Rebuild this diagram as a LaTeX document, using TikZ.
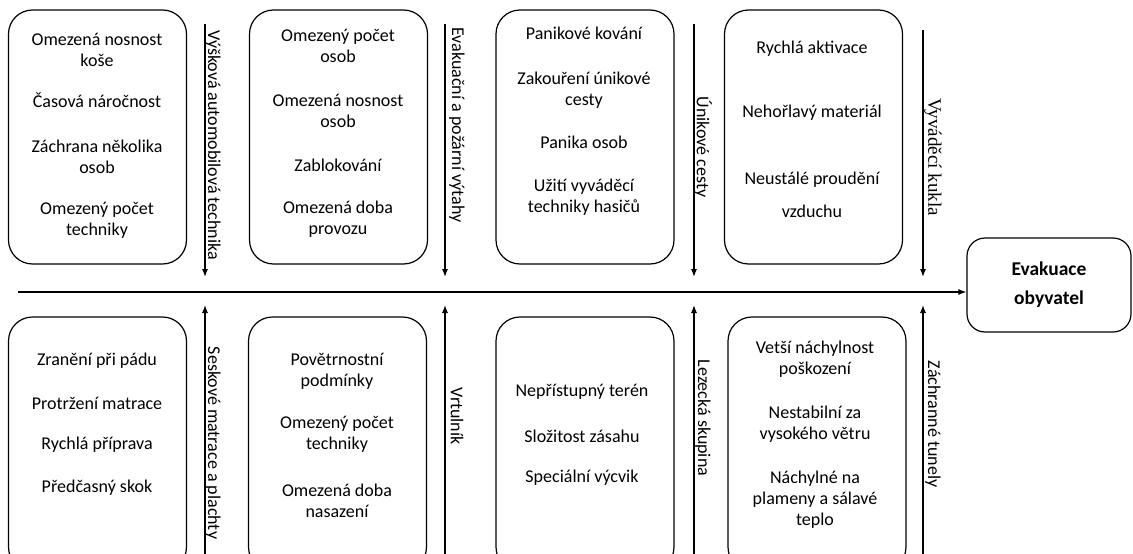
\documentclass[tikz,border=0pt]{standalone}
\usepackage{fontspec}
\setmainfont{Carlito}
\newfontfamily\serifx{Liberation Serif}
\usetikzlibrary{arrows.meta}
\tikzset{
  box/.style={draw, line width=1.2pt, rounded corners=24pt, minimum width=178pt, minimum height=254pt, inner sep=0pt},
  goalbox/.style={draw, line width=1.2pt, rounded corners=18pt, minimum width=164pt, minimum height=94pt, inner sep=0pt, align=center, font=\fontsize{19.5}{29}\selectfont\bfseries},
  item/.style={align=center, inner sep=0pt, font=\fontsize{18}{21}\selectfont},
  vlabel/.style={rotate=-90, inner sep=0pt, font=\fontsize{18}{21}\selectfont},
  branch/.style={line width=1.2pt, -{Latex[length=8pt,width=6pt]}},
}
\begin{document}
\begin{tikzpicture}[x=1pt,y=-1pt]
\useasboundingbox (0,0) rectangle (1133,554);
\clip (0,0) rectangle (1133,554);
\fill[white] (0,0) rectangle (1133,554);
% top boxes
\node[box] (b1) at (97.5,137) {};
\node[box] (b2) at (338.5,137) {};
\node[box] (b3) at (585,137) {};
\node[box] (b4) at (813.5,137) {};
% bottom boxes
\node[box] (b5) at (97.5,444) {};
\node[box] (b6) at (337.5,444) {};
\node[box] (b7) at (585,444) {};
\node[box] (b8) at (817,444) {};
% goal
\node[goalbox] (goal) at (1049,285) {Evakuace\\obyvatel};
% box 1 texts
\node[item] (t11) at (97,50) {Omezená nosnost\\koše};
\node[item] (t12) at (97,100) {Časová náročnost};
\node[item] (t13) at (97,157) {Záchrana několika\\osob};
\node[item] (t14) at (97,220) {Omezený počet\\techniky};
% box 2
\node[item] (t21) at (338,46) {Omezený počet\\osob};
\node[item] (t22) at (338,111) {Omezená nosnost\\osob};
\node[item] (t23) at (338,165) {Zablokování};
\node[item] (t24) at (338,219) {Omezená doba\\provozu};
% box 3
\node[item] (t31) at (584,33) {Panikové kování};
\node[item] (t32) at (584,90) {Zakouření únikové\\cesty};
\node[item] (t33) at (584,142) {Panika osob};
\node[item] (t34) at (584,197) {Užití vyváděcí\\techniky hasičů};
% box 4
\node[item] (t41) at (812,49) {Rychlá aktivace};
\node[item] (t42) at (812,113) {Nehořlavý materiál};
\node[item, font=\fontsize{18}{33}\selectfont] (t43) at (812,195) {Neustálé proudění\\vzduchu};
% box 5
\node[item] (t51) at (97,361) {Zranění při pádu};
\node[item] (t52) at (97,403) {Protržení matrace};
\node[item] (t53) at (97,445) {Rychlá příprava};
\node[item] (t54) at (97,488) {Předčasný skok};
% box 6
\node[item] (t61) at (337,371) {Povětrnostní\\podmínky};
\node[item] (t62) at (337,434) {Omezený počet\\techniky};
\node[item] (t63) at (337,501) {Omezená doba\\nasazení};
% box 7
\node[item] (t71) at (582,392) {Nepřístupný terén};
\node[item] (t72) at (582,436) {Složitost zásahu};
\node[item] (t73) at (582,478) {Speciální výcvik};
% box 8
\node[item] (t81) at (815,359) {Vetší náchylnost\\poškození};
\node[item] (t82) at (815,424) {Nestabilní za\\vysokého větru};
\node[item] (t83) at (815,500) {Náchylné na\\plameny a sálavé\\teplo};
% spine
\coordinate (s0) at (18,292);
\draw[branch] (s0) -- (goal.west |- s0);
% top branches
\coordinate (a1s) at (205,24); \coordinate (a1e) at (205,277);
\coordinate (a2s) at (445,24); \coordinate (a2e) at (445,277);
\coordinate (a3s) at (694,24); \coordinate (a3e) at (694,277);
\coordinate (a4s) at (923,30); \coordinate (a4e) at (923,277);
\draw[branch] (a1s) -- (a1e);
\draw[branch] (a2s) -- (a2e);
\draw[branch] (a3s) -- (a3e);
\draw[branch] (a4s) -- (a4e);
% bottom branches
\coordinate (c1s) at (205,560); \coordinate (c1e) at (205,305);
\coordinate (c2s) at (445,560); \coordinate (c2e) at (445,305);
\coordinate (c3s) at (694,560); \coordinate (c3e) at (694,305);
\coordinate (c4s) at (923,560); \coordinate (c4e) at (923,305);
\draw[branch] (c1s) -- (c1e);
\draw[branch] (c2s) -- (c2e);
\draw[branch] (c3s) -- (c3e);
\draw[branch] (c4s) -- (c4e);
% labels
\node[vlabel] (l1) at (213,145) {Výšková automobilová technika};
\node[vlabel] (l2) at (457,125) {Evakuační a požární výtahy};
\node[vlabel] (l3) at (703,147) {Únikové cesty};
\node[vlabel, font=\fontsize{19}{22}\serifx] (l4) at (933,157) {Vyváděcí kukla};
\node[vlabel] (l5) at (213,443) {Seskové matrace a plachty};
\node[vlabel] (l6) at (457,416) {Vrtulník};
\node[vlabel] (l7) at (703,418) {Lezecká skupina};
\node[vlabel] (l8) at (933,424) {Záchranné tunely};
\end{tikzpicture}
\end{document}
